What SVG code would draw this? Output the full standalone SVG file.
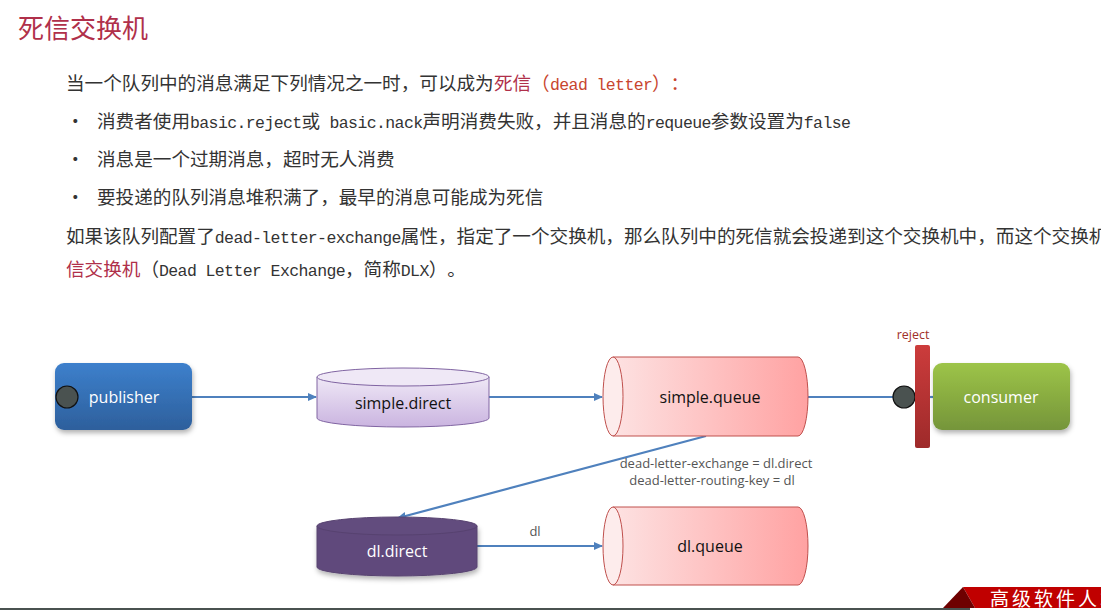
<svg xmlns="http://www.w3.org/2000/svg" width="1101" height="610" viewBox="0 0 1101 610">
<defs>
<style>
text{text-spacing-trim:space-all}
.cjk{font-family:"Noto Sans CJK SC","Noto Sans",sans-serif;font-size:18.6px;fill:#333333}
.mono{font-family:"Liberation Mono","DejaVu Sans Mono",monospace;font-size:16.5px;letter-spacing:-0.6px}
.red{fill:#b0304a}
.org{fill:#c8452e}
.lbl{font-family:"Open Sans","Noto Sans",sans-serif;font-size:16px;text-anchor:middle;dominant-baseline:central}
.small{font-family:"Open Sans","Noto Sans",sans-serif;font-size:13px;fill:#555555;text-anchor:middle}
.conn{stroke:#4f81bd;stroke-width:2.2;fill:none}
</style>
<linearGradient id="gBlue" x1="0" y1="0" x2="0" y2="1"><stop offset="0" stop-color="#3d80cc"/><stop offset="1" stop-color="#2d5f9c"/></linearGradient>
<linearGradient id="gGreen" x1="0" y1="0" x2="0" y2="1"><stop offset="0" stop-color="#9dc448"/><stop offset="1" stop-color="#75953a"/></linearGradient>
<linearGradient id="gPurple" x1="0" y1="0" x2="0" y2="1"><stop offset="0" stop-color="#efe8f6"/><stop offset="1" stop-color="#cab4e0"/></linearGradient>
<linearGradient id="gPink" x1="0" y1="0" x2="1" y2="0"><stop offset="0" stop-color="#fde2e2"/><stop offset="1" stop-color="#ffa2a2"/></linearGradient>
<linearGradient id="gBar" x1="0" y1="0" x2="0" y2="1"><stop offset="0" stop-color="#cc3c3c"/><stop offset="1" stop-color="#9e2a2a"/></linearGradient>
<filter id="sh" x="-10%" y="-10%" width="125%" height="135%"><feDropShadow dx="1" dy="3" stdDeviation="2.5" flood-color="#000" flood-opacity="0.3"/></filter>
<marker id="arr" markerWidth="10" markerHeight="10" refX="8" refY="5" orient="auto" markerUnits="userSpaceOnUse"><path d="M0,1 L9,5 L0,9 Z" fill="#4f81bd"/></marker>
</defs>
<rect width="1101" height="610" fill="#ffffff"/>

<text x="18" y="38" style="font-family:'Noto Sans CJK SC',serif;font-size:26px" fill="#b0304a">死信交换机</text>

<text class="cjk" x="66" y="90">当一个队列中的消息满足下列情况之一时，可以成为<tspan class="red" x="494">死信</tspan><tspan class="org" x="531">（</tspan><tspan class="mono org" x="550">dead letter</tspan><tspan class="org" x="652">）</tspan><tspan class="org" x="670.6">：</tspan></text>
<text class="cjk" x="66" y="128">•</text>
<text class="cjk" x="97" y="128">消费者使用<tspan class="mono" x="190">basic.reject</tspan><tspan x="301.6">或</tspan><tspan class="mono" x="320.2"> basic.nack</tspan><tspan x="422.5">声明消费失败，并且消息的</tspan><tspan class="mono" x="645.7">requeue</tspan><tspan x="710.8">参数设置为</tspan><tspan class="mono" x="803.8">false</tspan></text>
<text class="cjk" x="66" y="166">•</text>
<text class="cjk" x="97" y="166">消息是一个过期消息，超时无人消费</text>
<text class="cjk" x="66" y="204">•</text>
<text class="cjk" x="97" y="204">要投递的队列消息堆积满了，最早的消息可能成为死信</text>
<text class="cjk" x="66" y="243">如果该队列配置了<tspan class="mono" x="214.8">dead-letter-exchange</tspan><tspan x="400.8">属性，指定了一个交换机，那么队列中的死信就会投递到这个交换机中，而这个交换机</tspan></text>
<text class="cjk" x="66" y="276"><tspan class="red">信交换机</tspan><tspan x="140.4">（</tspan><tspan class="mono" x="159">Dead Letter Exchange</tspan><tspan x="345">，简称</tspan><tspan class="mono" x="400.8">DLX</tspan><tspan x="428.7">）</tspan><tspan x="447.3">。</tspan></text>

<g id="connectors">
<line class="conn" x1="192" y1="397" x2="316" y2="397" marker-end="url(#arr)"/>
<line class="conn" x1="489" y1="397" x2="602" y2="397" marker-end="url(#arr)"/>
<line class="conn" x1="808" y1="397" x2="895" y2="397"/>
<line class="conn" x1="929" y1="397" x2="934" y2="397"/>
<line class="conn" x1="706" y1="436" x2="398" y2="518" marker-end="url(#arr)"/>
<line class="conn" x1="477" y1="546" x2="602" y2="546" marker-end="url(#arr)"/>
<text class="small" x="716" y="468">dead-letter-exchange = dl.direct</text>
<text class="small" x="712" y="485">dead-letter-routing-key = dl</text>
<text class="small" x="535" y="536">dl</text>
</g>

<g id="publisher">
<rect x="55" y="363" width="137" height="67" rx="9" fill="url(#gBlue)" filter="url(#sh)"/>
<circle cx="67" cy="397" r="11" fill="#4a5250" stroke="#111" stroke-width="1.2"/>
<text class="lbl" x="124" y="397" fill="#ffffff">publisher</text>
</g>

<g id="simple-direct">
<path d="M317,377 L317,418 A86,9 0 0 0 489,418 L489,377 Z" fill="url(#gPurple)" stroke="#8064a2" stroke-width="1"/>
<ellipse cx="403" cy="377" rx="86" ry="9" fill="#efe8f6" stroke="#8064a2" stroke-width="1"/>
<text class="lbl" x="403" y="403" fill="#111">simple.direct</text>
</g>

<g id="simple-queue">
<path d="M613,357 L798,357 A10,39.5 0 0 1 798,436 L613,436 Z" fill="url(#gPink)" stroke="#c0504d" stroke-width="1"/>
<ellipse cx="613" cy="396.5" rx="10" ry="39.5" fill="#fdecec" stroke="#c0504d" stroke-width="1"/>
<text class="lbl" x="710" y="397" fill="#111">simple.queue</text>
</g>

<g id="reject">
<circle cx="904" cy="397" r="11" fill="#4a5250" stroke="#111" stroke-width="1.2"/>
<rect x="915" y="345" width="15" height="103" rx="2" fill="url(#gBar)"/>
<text x="913" y="339" style="font-family:'Open Sans','Noto Sans',sans-serif;font-size:12.5px;text-anchor:middle" fill="#a0302a">reject</text>
</g>

<g id="consumer">
<rect x="933" y="363" width="137" height="67" rx="9" fill="url(#gGreen)" filter="url(#sh)"/>
<text class="lbl" x="1001" y="397" fill="#ffffff">consumer</text>
</g>

<g id="dl-direct">
<path d="M317,526 L317,567 A80,9 0 0 0 477,567 L477,526 Z" fill="#604a7b" stroke="#574270" stroke-width="1" filter="url(#sh)"/>
<ellipse cx="397" cy="526" rx="80" ry="9" fill="#624c7e" stroke="#574270" stroke-width="1"/>
<text class="lbl" x="397" y="551" fill="#ffffff">dl.direct</text>
</g>

<g id="dl-queue">
<path d="M613,507 L798,507 A10,39 0 0 1 798,585 L613,585 Z" fill="url(#gPink)" stroke="#c0504d" stroke-width="1"/>
<ellipse cx="613" cy="546" rx="10" ry="39" fill="#fdecec" stroke="#c0504d" stroke-width="1"/>
<text class="lbl" x="710" y="546" fill="#111">dl.queue</text>
</g>

<g id="footer">
<rect x="0" y="608" width="970" height="2" fill="#4a5250"/>
<polygon points="963,587 1101,587 1101,608 975,608" fill="#c00000"/>
<polygon points="963,587 975,608 943,608" fill="#6e0000"/>
<text x="990" y="606" style="font-family:'Noto Sans CJK SC',serif;font-size:19px;letter-spacing:3px" fill="#ffffff">高级软件人才</text>
</g>
</svg>
